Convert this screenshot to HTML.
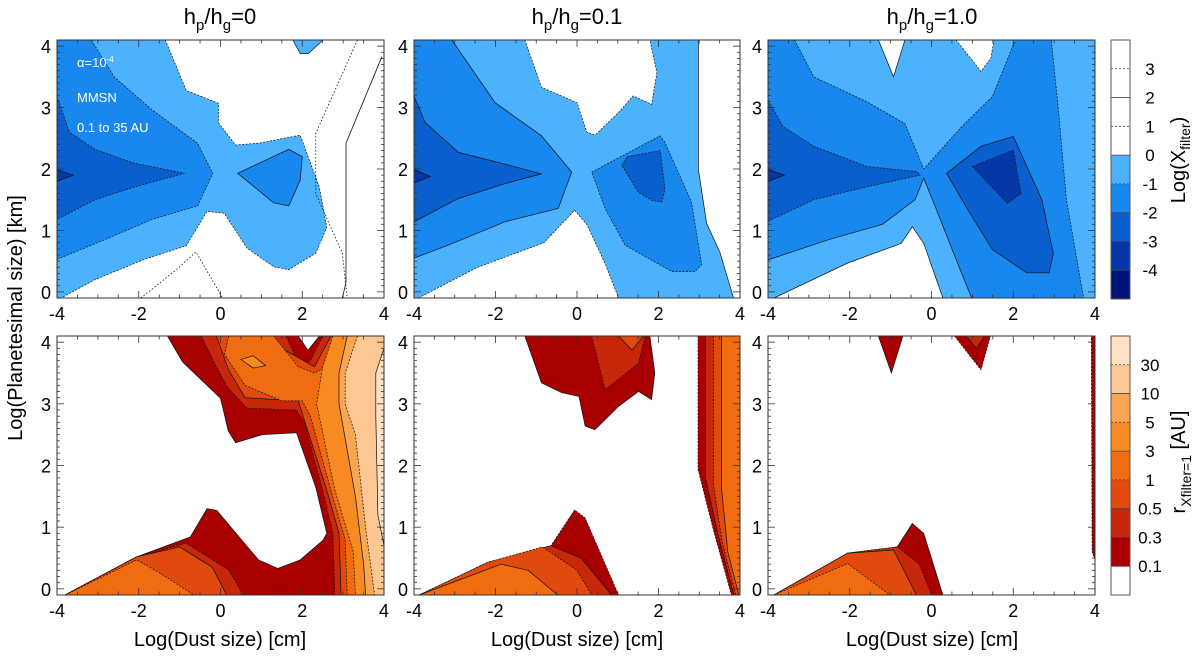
<!DOCTYPE html>
<html><head><meta charset="utf-8"><style>
html,body{margin:0;padding:0;background:#fff}
svg{display:block;font-family:"Liberation Sans",sans-serif}
</style></head><body>
<svg id="fig" width="1200" height="667" viewBox="0 0 1200 667" xmlns="http://www.w3.org/2000/svg">
<rect width="1200" height="667" fill="#fff"/>
<g id="plots"></g>
<g font-size="22" text-anchor="middle" fill="#000">
 <text x="220" y="24">h<tspan dy="6" font-size="15">p</tspan><tspan dy="-6">/h</tspan><tspan dy="6" font-size="15">g</tspan><tspan dy="-6">=0</tspan></text>
 <text x="577" y="24">h<tspan dy="6" font-size="15">p</tspan><tspan dy="-6">/h</tspan><tspan dy="6" font-size="15">g</tspan><tspan dy="-6">=0.1</tspan></text>
 <text x="932" y="24">h<tspan dy="6" font-size="15">p</tspan><tspan dy="-6">/h</tspan><tspan dy="6" font-size="15">g</tspan><tspan dy="-6">=1.0</tspan></text>
</g>
<text transform="translate(22,318) rotate(-90)" font-size="20" text-anchor="middle">Log(Planetesimal size) [km]</text>
<g font-size="20" text-anchor="middle">
 <text x="220" y="646">Log(Dust size) [cm]</text>
 <text x="577" y="646">Log(Dust size) [cm]</text>
 <text x="932" y="646">Log(Dust size) [cm]</text>
</g>
<g fill="#fff" font-size="13">
 <text x="77" y="67">α=10<tspan dy="-5" font-size="8">-4</tspan></text>
 <text x="77" y="102">MMSN</text>
 <text x="77" y="132">0.1 to 35 AU</text>
</g>
<text transform="translate(1185,160) rotate(-90)" font-size="20" text-anchor="middle">Log(X<tspan dy="5" font-size="14">filter</tspan><tspan dy="-5">)</tspan></text>
<text transform="translate(1185,462) rotate(-90)" font-size="20" text-anchor="middle">r<tspan dy="6" font-size="14">Xfilter=1</tspan><tspan dy="-6"> [AU]</tspan></text>
</svg>
<script>
const blueColors = ['#ffffff','#4cb2fd','#1888ee','#0a5fcf','#0637a8','#001478'];
const redColors = ['#ffffff','#a80000','#c8280a','#e04a0c','#f06c10','#f88a22','#faa552','#fcc792','#fde2c6'];
const xTicks = [-4,-2,0,2,4];
const yTicks = [0,1,2,3,4];
const topBarLabels = ['3','2','1','0','-1','-2','-3','-4'];
const topBarLevels = [3,2,1,0,-1,-2,-3,-4];
const botBarLabels = ['30','10','5','3','1','0.5','0.3','0.1'];

// regions: [colorIndex, [[logDust, logPlanetesimal], ...]]
const p1Top = [
 [1, [[-4,-0.1],[4,-0.1],[4,4.1],[-4,4.1]]],
 [0, [[-1.35,4.1],[-0.84,3.28],[-0.05,3.07],[-0.05,2.75],[0.37,2.39],[0.93,2.42],[1.95,2.55],[2.42,1.7],[2.6,1.05],[2.33,0.63],[1.67,0.36],[1.3,0.41],[0.65,0.71],[0.09,1.28],[-0.33,1.31],[-0.84,0.75],[-1.86,0.53],[-3.07,0.2],[-3.9,-0.1],[4,-0.1],[4,4.1]]],
 [1, [[1.77,4.1],[1.95,3.88],[2.15,3.88],[2.51,4.1]]],
 [2, [[-4,4.1],[-3.16,4.1],[-2.6,3.5],[-1.67,2.96],[-0.56,2.42],[-0.19,1.93],[-0.56,1.4],[-1.67,1.18],[-2.79,0.86],[-4,0.53]]],
 [2, [[0.42,1.93],[1.67,2.32],[2.0,2.2],[1.95,1.82],[1.67,1.4],[1.3,1.45]]],
 [3, [[-4,3.18],[-3.7,2.6],[-3.07,2.32],[-2.14,2.1],[-0.88,1.93],[-2.14,1.7],[-3.07,1.5],[-4,1.18]]],
 [4, [[-4,1.99],[-3.6,1.9],[-4,1.8]]]
];
const p2Top = [
 [1, [[-4,-0.1],[4,-0.1],[4,4.1],[-4,4.1]]],
 [0, [[-1.28,4.1],[-0.87,3.33],[0,3.08],[0.24,2.6],[0.44,2.55],[1.02,2.92],[1.38,3.19],[1.83,3.05],[1.96,3.57],[1.79,4.1]]],
 [0, [[2.98,4.1],[2.98,1.99],[3.18,1.12],[3.51,0.64],[3.84,-0.1],[4,-0.1],[4,4.1]]],
 [0, [[-3.89,-0.1],[-2.44,0.4],[-0.81,0.8],[-0.06,1.33],[0.24,1.1],[0.69,0.46],[1.02,-0.1]]],
 [2, [[-4,4.1],[-3.07,4.1],[-2.01,3.08],[-0.87,2.54],[-0.13,1.95],[-0.46,1.36],[-1.77,1.14],[-3.16,0.76],[-4,0.55]]],
 [2, [[0.36,1.95],[2.04,2.54],[2.16,2.43],[2.81,1.46],[3.06,0.44],[2.89,0.33],[2.33,0.33],[1.18,0.76],[0.69,1.36]]],
 [3, [[-4,3.19],[-3.73,2.76],[-2.91,2.27],[-1.77,2.08],[-0.87,1.92],[-1.77,1.76],[-2.91,1.52],[-4,1.14]]],
 [3, [[1.1,2.06],[1.23,2.2],[2.04,2.3],[2.16,1.68],[2.08,1.46],[1.83,1.49],[1.51,1.62]]],
 [4, [[-4,1.99],[-3.6,1.88],[-4,1.77]]]
];
const p3Top = [
 [2, [[-4,-0.1],[4,-0.1],[4,4.1],[-4,4.1]]],
 [1, [[-3.35,4.1],[-2.88,3.5],[-1.6,3.1],[-0.65,2.74],[-0.19,2.0],[0.74,2.69],[1.49,3.18],[2.05,4.1]]],
 [1, [[-4,0.52],[-2.51,0.85],[-1.2,1.1],[-0.4,1.5],[-0.19,1.85],[0.09,1.39],[0.5,0.7],[0.98,-0.1],[-4,-0.1]]],
 [1, [[2.93,4.1],[4,4.1],[4,-0.1],[3.72,-0.1],[3.3,1.5],[3.1,3.0]]],
 [0, [[-1.3,4.1],[-0.93,3.5],[-0.65,4.1]]],
 [0, [[0.6,4.1],[1.21,3.59],[1.45,3.8],[1.53,4.1]]],
 [0, [[-3.85,-0.1],[-2.05,0.47],[-0.74,0.79],[-0.47,1.06],[-0.19,0.79],[0.28,-0.1]]],
 [3, [[-4,3.12],[-3.63,2.69],[-2.88,2.37],[-1.58,2.04],[-0.37,1.96],[-0.28,1.9],[-1.58,1.71],[-2.88,1.5],[-4,1.15]]],
 [3, [[0.37,1.93],[1.21,2.37],[2.0,2.53],[2.7,1.5],[2.98,0.63],[2.88,0.31],[2.33,0.31],[1.49,0.69],[0.84,1.39]]],
 [4, [[1.0,2.04],[2.0,2.31],[2.19,1.6],[1.86,1.44]]],
 [4, [[-4,1.99],[-3.6,1.9],[-4,1.8]]]
];
const p1Bot = [
 [1, [[-1.3,4.1],[-0.93,3.68],[0,3.09],[0.19,2.56],[0.37,2.37],[1.02,2.5],[1.86,2.53],[2.33,1.65],[2.6,0.9],[2.51,0.79],[1.95,0.47],[1.4,0.33],[0.93,0.47],[-0.09,1.27],[-0.33,1.3],[-0.74,0.84],[-2.05,0.52],[-3.81,-0.1],[4,-0.1],[4,4.1],[2.42,4.1],[2.14,3.87],[1.9,4.1]]],
 [2, [[-0.47,4.1],[-0.1,3.6],[0.19,3.25],[0.65,2.93],[1.86,2.9],[2.05,2.7],[2.5,1.6],[2.75,0.9],[2.8,-0.1],[4,-0.1],[4,4.1],[2.5,4.1],[2.2,3.7],[1.95,3.6],[1.6,4.1]]],
 [3, [[-0.1,4.1],[0.2,3.55],[0.6,3.1],[1.9,3.05],[2.6,1.6],[2.9,0.9],[2.95,-0.1],[4,-0.1],[4,4.1],[2.7,4.1],[2.3,3.6],[1.5,3.9],[1.3,4.1]]],
 [4, [[0.2,4.1],[0.1,3.8],[0.6,3.3],[1.5,3.05],[2.0,3.05],[2.2,2.8],[2.7,1.6],[3.05,0.8],[3.1,-0.1],[4,-0.1],[4,4.1],[3.2,4.1],[2.85,3.7],[2.3,3.5],[1.9,3.6],[1.3,4.1]]],
 [5, [[0.5,3.72],[0.8,3.78],[1.1,3.62],[0.8,3.58]]],
 [5, [[2.75,4.1],[2.5,3.6],[2.35,3.0],[2.8,1.6],[3.25,0.6],[3.3,-0.1],[4,-0.1],[4,4.1]]],
 [6, [[3.1,4.1],[2.9,3.5],[2.9,3.0],[3.3,1.5],[3.5,0.4],[3.55,-0.1],[4,-0.1],[4,4.1]]],
 [7, [[3.35,4.1],[3.05,3.5],[3.05,3.0],[3.3,2.5],[3.55,1.0],[3.77,-0.1],[4,-0.1],[4,4.1]]],
 [8, [[4,3.9],[3.8,3.5],[3.8,2.8],[3.85,1.2],[4,0.7]]],
 [2, [[-3.81,-0.1],[-2.05,0.52],[-0.84,0.74],[0.19,0.31],[0.56,-0.1]]],
 [3, [[-3.81,-0.1],[-2.05,0.52],[-1.0,0.68],[-0.2,0.35],[0.15,-0.1]]],
 [4, [[-3.8,-0.1],[-2.05,0.47],[-1.49,0.26],[-0.65,-0.1]]]
];
const p2Bot = [
 [1, [[-1.28,4.1],[-0.87,3.34],[-0.37,3.18],[0.05,3.12],[0.2,2.64],[0.44,2.58],[1.02,2.96],[1.51,3.2],[1.83,3.07],[1.91,3.5],[1.79,4.1]]],
 [2, [[0.36,4.1],[0.69,3.23],[1.1,3.44],[1.51,3.66],[1.67,4.1]]],
 [3, [[1.02,4.1],[1.35,3.87],[1.63,4.1]]],
 [1, [[2.97,4.1],[2.97,1.94],[3.34,0.97],[3.79,-0.1],[4,-0.1],[4,4.1]]],
 [2, [[3.15,4.1],[3.15,1.8],[3.45,0.9],[3.85,-0.1],[4,-0.1],[4,4.1]]],
 [3, [[3.35,4.1],[3.35,1.7],[3.55,0.8],[3.9,-0.1],[4,-0.1],[4,4.1]]],
 [4, [[3.55,4.1],[3.55,1.6],[3.7,0.6],[3.97,-0.1],[4,-0.1],[4,4.1]]],
 [1, [[-3.87,-0.1],[-2.19,0.43],[-0.64,0.7],[-0.06,1.28],[0.2,1.15],[1.02,-0.1]]],
 [2, [[-3.87,-0.1],[-2.19,0.43],[-0.64,0.7],[0.1,0.5],[0.85,-0.1]]],
 [3, [[-3.87,-0.1],[-2.19,0.43],[-0.85,0.68],[0.0,0.3],[0.36,-0.1]]],
 [4, [[-3.87,-0.1],[-1.86,0.4],[-1.2,0.3],[-0.47,-0.1]]]
];
const p3Bot = [
 [1, [[-1.3,4.1],[-0.98,3.5],[-0.7,4.1]]],
 [1, [[0.56,4.1],[1.21,3.55],[1.44,4.1]]],
 [2, [[0.85,4.1],[1.1,3.9],[1.3,4.1]]],
 [1, [[3.91,4.1],[4,4.1],[4,0.47],[3.93,0.6]]],
 [1, [[-3.86,-0.1],[-2.05,0.58],[-0.84,0.68],[-0.47,1.06],[-0.19,0.9],[0.28,-0.1]]],
 [2, [[-3.86,-0.1],[-2.05,0.58],[-0.84,0.68],[-0.3,0.4],[0.0,-0.1]]],
 [3, [[-3.86,-0.1],[-2.05,0.58],[-0.93,0.63],[-0.37,-0.1]]],
 [4, [[-3.86,-0.1],[-2.05,0.41],[-1.02,-0.1]]]
];

const NS = 'http://www.w3.org/2000/svg';
const plots = document.getElementById('plots');
const cols = [[57,384],[414,740],[768,1095]];
const rows = [[40,298],[336,595]];
function mk(tag, attrs, parent){ const e=document.createElementNS(NS,tag); for(const k in attrs) e.setAttribute(k,attrs[k]); (parent||plots).appendChild(e); return e; }

function drawPanel(ci, ri, regions, colors, name){
  const [x0,x1]=cols[ci], [y0,y1]=rows[ri];
  const sx = v => x0 + (v+4)/8*(x1-x0);
  const sy = v => y1 - (v+0.1)/4.2*(y1-y0);
  const g = mk('g',{});
  
  
  const cid='clip'+ci+ri;
  const cp = mk('clipPath',{id:cid},g); mk('rect',{x:x0,y:y0,width:x1-x0,height:y1-y0},cp);
  const inner = mk('g',{'clip-path':'url(#'+cid+')'},g);
  mk('rect',{x:x0,y:y0,width:x1-x0,height:y1-y0,fill:'#fff'},inner);
  regions.forEach((r,i)=>{
    const p = mk('polygon',{points:r[1].map(q=>sx(q[0]).toFixed(1)+','+sy(q[1]).toFixed(1)).join(' '),fill:colors[r[0]],stroke:'#111','stroke-width':0.7,'stroke-dasharray': (i%2? '2,1.5':'none')},inner);
    
    
  });
  // ticks
  const tg = mk('g',{stroke:'#333','stroke-width':0.8},g);
  for(let v=-4; v<=4.001; v+=0.5){ const L = (Math.abs(v%2)<0.01)?7:3.5; const X=sx(v);
    mk('line',{x1:X,y1:y1,x2:X,y2:y1-L},tg); mk('line',{x1:X,y1:y0,x2:X,y2:y0+L},tg); }
  for(let v=0; v<=4.001; v+=0.1){ const L = (Math.abs(v-Math.round(v))<0.01)?7:3; const Y=sy(v);
    mk('line',{x1:x0,y1:Y,x2:x0+L,y2:Y},tg); mk('line',{x1:x1,y1:Y,x2:x1-L,y2:Y},tg); }
  const fr = mk('rect',{x:x0,y:y0,width:x1-x0,height:y1-y0,fill:'none',stroke:'#333','stroke-width':1},g);
  
  
  xTicks.forEach(v=>{ const t=mk('text',{x:sx(v),y:y1+22,'font-size':18,'text-anchor':'middle'},g); t.textContent=v;
      });
  yTicks.forEach(v=>{ const t=mk('text',{x:x0-6,y:sy(v)+7,'font-size':18,'text-anchor':'end'},g); t.textContent=v;
      });
  return {sx,sy,g};
}
const a = drawPanel(0,0,p1Top,blueColors,'panel-top-hp0');
drawPanel(1,0,p2Top,blueColors,'panel-top-hp01');
drawPanel(2,0,p3Top,blueColors,'panel-top-hp1');
drawPanel(0,1,p1Bot,redColors,'panel-bottom-hp0');
drawPanel(1,1,p2Bot,redColors,'panel-bottom-hp01');
drawPanel(2,1,p3Bot,redColors,'panel-bottom-hp1');

// extra contour lines in panel 1 top
const lineSolid = [[3.95,3.83],[3.07,2.42],[3.07,0.15],[2.98,-0.1]];
const lineDot = [[3.35,4.1],[2.33,2.58],[2.33,1.6],[2.98,0.63],[3.1,-0.1]];
const lineDot2 = [[-1.95,-0.1],[-1.1,0.35],[-0.6,0.65],[0.05,-0.1]];
[[lineSolid,'none'],[lineDot,'1.5,2'],[lineDot2,'1.5,2']].forEach((L,i)=>{
  const p=mk('polyline',{points:L[0].map(q=>a.sx(q[0])+','+a.sy(q[1])).join(' '),fill:'none',stroke:'#111','stroke-width':0.8,'stroke-dasharray':L[1]},a.g);
  
  
});

// colorbars
function colorbar(y0,y1,fills,labels,name){
  const x0=1111,x1=1130; const n=fills.length; const h=(y1-y0)/n;
  const g=mk('g',{});
  
  
  fills.forEach((c,i)=>{ const r=mk('rect',{x:x0,y:y0+i*h,width:x1-x0,height:h+0.5,fill:c},g);
      });
  labels.forEach((l,i)=>{ const Y=y0+(i+1)*h; mk('line',{x1:x0,y1:Y,x2:x1,y2:Y,stroke:'#444','stroke-width':0.8,'stroke-dasharray':(i%2?'none':'2,2')},g);
    const t=mk('text',{x:1150,y:Y+6,'font-size':17,'text-anchor':'middle'},g); t.textContent=l;
      });
  mk('rect',{x:x0,y:y0,width:x1-x0,height:y1-y0,fill:'none',stroke:'#555','stroke-width':1},g);
}
colorbar(40,299,['#fff','#fff','#fff','#fff',blueColors[1],blueColors[2],blueColors[3],blueColors[4],blueColors[5]],topBarLabels,'colorbar-log-xfilter');
colorbar(336,595,[redColors[8],redColors[7],redColors[6],redColors[5],redColors[4],redColors[3],redColors[2],redColors[1],'#fff'],botBarLabels,'colorbar-r-xfilter');
</script>
</body></html>
